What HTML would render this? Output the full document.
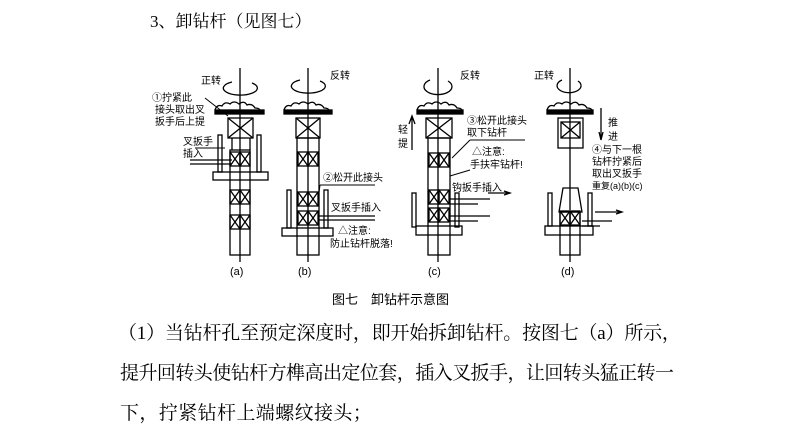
<!DOCTYPE html>
<html><head><meta charset="utf-8"><style>
body{margin:0;width:793px;height:427px;background:#fff;overflow:hidden;position:relative;font-family:"Liberation Serif","Noto Serif CJK SC",serif;color:#000}
.t{position:absolute;white-space:nowrap}
svg{position:absolute;left:0;top:0}
</style></head><body>
<div class="t" style="left:150px;top:7px;font-size:17px">3、卸钻杆（见图七）</div>
<div class="t" style="left:332px;top:289px;font-size:13px;font-family:'Liberation Sans','Noto Sans CJK SC',sans-serif">图七　卸钻杆示意图</div>
<div class="t" style="left:118px;top:318px;font-size:19px;letter-spacing:-0.2px">（1）当钻杆孔至预定深度时，即开始拆卸钻杆。按图七（a）所示，</div>
<div class="t" style="left:120px;top:358px;font-size:19px;letter-spacing:-0.55px">提升回转头使钻杆方榫高出定位套，插入叉扳手，让回转头猛正转一</div>
<div class="t" style="left:120px;top:398px;font-size:19px;letter-spacing:0.4px">下，拧紧钻杆上端螺纹接头；</div>
<svg width="793" height="427" viewBox="0 0 793 427" font-family="Liberation Sans, Noto Sans CJK SC, sans-serif" font-size="10" stroke="#000" fill="none" stroke-width="1.3">
<defs>
<g id="xb"><rect x="0" y="0" width="10" height="14"/><path d="M0 0L10 14M10 0L0 14"/></g>
<path id="cloud" d="M0 10 q2 -6 7 -4 q3 -5 8 -2 q4 -4 9 0 q5 -4 8 1 q5 -2 8 3 q4 0 5 2"/>
</defs>
<!-- (a) -->
<g>
<line x1="240" y1="68" x2="240" y2="262"/>
<path d="M232 82 A17 7 0 1 0 252 83"/>
<use href="#cloud" x="215" y="100"/>
<rect x="215" y="110" width="49" height="4" fill="#000"/>
<rect x="228" y="118" width="25" height="20"/><path d="M228 118L253 138M253 118L228 138"/>
<path d="M232 138L232 150M250 138L250 150"/>
<rect x="230" y="150" width="20" height="105"/>
<use href="#xb" x="230" y="152"/><use href="#xb" x="240" y="152"/>
<use href="#xb" x="230" y="190"/><use href="#xb" x="240" y="190"/>
<use href="#xb" x="230" y="215"/><use href="#xb" x="240" y="215"/>
<rect x="218" y="135" width="4" height="37"/><rect x="257" y="135" width="4" height="37"/>
<rect x="213" y="172" width="55" height="8"/>
<line x1="190" y1="160" x2="232" y2="160"/><line x1="190" y1="164" x2="232" y2="164"/>
<line x1="205" y1="98" x2="228" y2="116" stroke-width="1"/>
<line x1="195" y1="148" x2="225" y2="148" stroke-width="1"/>
<g stroke="none" fill="#000">
<text x="201" y="84">正转</text>
<text x="152" y="101">①拧紧此</text><text x="155" y="113">接头取出叉</text><text x="155" y="125">扳手后上提</text>
<text x="183" y="145">叉扳手</text><text x="183" y="157">插入</text>
<text x="230" y="275" font-size="11">(a)</text>
</g>
</g>
<!-- (b) -->
<g>
<line x1="308" y1="68" x2="308" y2="262"/>
<path d="M300 80 A17 7 0 1 0 320 81"/>
<use href="#cloud" x="284" y="100"/>
<rect x="284" y="110" width="48" height="4" fill="#000"/>
<rect x="296" y="118" width="24" height="20"/><path d="M296 118L320 138M320 118L296 138"/>
<rect x="297" y="138" width="22" height="117"/>
<use href="#xb" x="298" y="152"/><use href="#xb" x="308" y="152"/>
<use href="#xb" x="298" y="192"/><use href="#xb" x="308" y="192"/>
<use href="#xb" x="298" y="211"/><use href="#xb" x="308" y="211"/>
<rect x="287" y="190" width="4" height="38"/><rect x="324" y="190" width="4" height="38"/>
<rect x="282" y="228" width="51" height="8"/>
<line x1="375" y1="216" x2="318" y2="216"/><line x1="375" y1="220" x2="318" y2="220"/>
<path d="M320 185L375 185M320 185L318 200" stroke-width="1"/>
<g stroke="none" fill="#000">
<text x="330" y="79">反转</text>
<text x="323" y="181">②松开此接头</text>
<text x="331" y="211">叉扳手插入</text>
<text x="338" y="234">△注意:</text><text x="330" y="247">防止钻杆脱落!</text>
<text x="298" y="275" font-size="11">(b)</text>
</g>
</g>
<!-- (c) -->
<g>
<line x1="438" y1="68" x2="438" y2="262"/>
<path d="M430 80 A14 8 0 1 0 448 81"/>
<use href="#cloud" x="417" y="100"/>
<rect x="417" y="110" width="46" height="4" fill="#000"/>
<rect x="426" y="118" width="26" height="20"/><path d="M426 118L452 138M452 118L426 138"/>
<rect x="428" y="138" width="22" height="117"/>
<use href="#xb" x="429" y="153"/><use href="#xb" x="439" y="153"/>
<use href="#xb" x="429" y="190"/><use href="#xb" x="439" y="190"/>
<use href="#xb" x="429" y="208"/><use href="#xb" x="439" y="208"/>
<rect x="412" y="193" width="4" height="34"/><rect x="455" y="193" width="4" height="34"/>
<rect x="416" y="226" width="46" height="9"/>
<path d="M450 199H490M450 204H478M450 216H490M450 221H478"/>
<path d="M412 150V118M409 124L412 116L415 124"/>
<path d="M488 193H508M504 191L510 193L504 195"/>
<path d="M470 140H525M470 140L452 158M470 170L450 176" stroke-width="1"/>
<g stroke="none" fill="#000">
<text x="460" y="79">反转</text>
<text x="398" y="133">轻</text><text x="398" y="147">提</text>
<text x="467" y="124">③松开此接头</text><text x="467" y="136">取下钻杆</text>
<text x="472" y="155">△注意:</text><text x="470" y="168">手扶牢钻杆!</text>
<text x="452" y="191">钩扳手插入</text>
<text x="428" y="275" font-size="11">(c)</text>
</g>
</g>
<!-- (d) -->
<g>
<line x1="570" y1="68" x2="570" y2="210"/>
<path d="M562 80 A12 7 0 1 0 578 81"/>
<use href="#cloud" x="547" y="100"/>
<rect x="547" y="110" width="46" height="4" fill="#000"/>
<rect x="558" y="118" width="25" height="30"/><rect x="561" y="122" width="19" height="16"/><path d="M561 122L580 138M580 122L561 138"/>
<path d="M563 188H578L582 212H559Z"/>
<rect x="560" y="212" width="20" height="43"/>
<use href="#xb" x="560" y="211"/><use href="#xb" x="570" y="211"/>
<line x1="570" y1="212" x2="570" y2="262"/>
<rect x="548" y="193" width="4" height="33"/><rect x="588" y="193" width="4" height="33"/>
<rect x="545" y="226" width="48" height="9"/>
<path d="M582 221H612M582 226H600"/>
<path d="M595 212H620M616 210L622 212L616 214"/>
<path d="M601 108V138M599 132L601 140L603 132"/>
<g stroke="none" fill="#000">
<text x="534" y="79">正转</text>
<text x="608" y="126">推</text><text x="608" y="140">进</text>
<text x="592" y="153">④与下一根</text><text x="592" y="165">钻杆拧紧后</text><text x="592" y="177">取出叉扳手</text><text x="592" y="189" font-size="9">重复(a)(b)(c)</text>
<text x="561" y="275" font-size="11">(d)</text>
</g>
</g>
</svg>
</body></html>
